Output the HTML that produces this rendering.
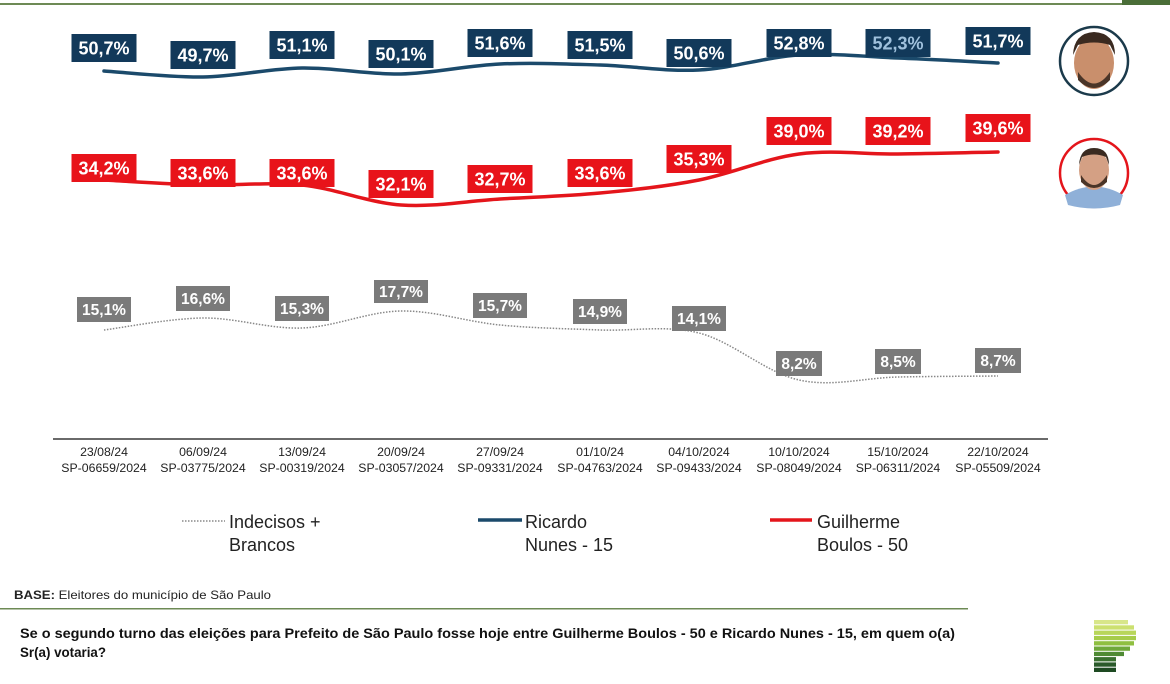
<!DOCTYPE html>
<html><head><meta charset="utf-8"><style>
html,body{margin:0;padding:0;background:#fff;}
body{width:1170px;height:684px;overflow:hidden;position:relative;font-family:"Liberation Sans",sans-serif;}
svg{position:absolute;left:0;top:0;}
</style></head><body>
<svg id="s" width="1170" height="684" viewBox="0 0 1170 684" font-family="Liberation Sans, sans-serif">
<rect x="0" y="3" width="1122" height="2" fill="#6d8a55"/>
<rect x="1122" y="0" width="48" height="5" fill="#4a6e38"/>
<path id="pb" fill="none" stroke="#1b4a6b" stroke-width="3.5" stroke-linecap="round"/>
<path id="pr" fill="none" stroke="#e4151b" stroke-width="3.5" stroke-linecap="round"/>
<path id="pg" fill="none" stroke="#888" stroke-width="1.5" stroke-dasharray="1.5 1.5"/>
<line x1="53" y1="439" x2="1048" y2="439" stroke="#111" stroke-width="1.2"/>
<g id="labels" font-weight="bold" text-anchor="middle"></g>
<g id="dates" font-size="12.3" fill="#222" text-anchor="middle"></g>
<line x1="182" y1="521" x2="225" y2="521" stroke="#888" stroke-width="1.5" stroke-dasharray="1.5 1.5"/>
<text x="229" y="528" font-size="18" fill="#222">Indecisos +</text>
<text x="229" y="551" font-size="18" fill="#222">Brancos</text>
<line x1="478" y1="520" x2="522" y2="520" stroke="#1b4a6b" stroke-width="3.5"/>
<text x="525" y="528" font-size="18" fill="#222">Ricardo</text>
<text x="525" y="551" font-size="18" fill="#222">Nunes - 15</text>
<line x1="770" y1="520" x2="812" y2="520" stroke="#e4151b" stroke-width="3.5"/>
<text x="817" y="528" font-size="18" fill="#222">Guilherme</text>
<text x="817" y="551" font-size="18" fill="#222">Boulos - 50</text>
<circle cx="1094" cy="61" r="34" fill="#fff" stroke="#1b3a4b" stroke-width="2.5"/>
<ellipse cx="1094" cy="63" rx="20" ry="26" fill="#c98f6c"/>
<path d="M1073 55 Q1074 33 1094 32 Q1115 33 1115 55 L1110 45 Q1094 40 1078 45 Z" fill="#3a2a20"/>
<path d="M1078 72 Q1094 95 1110 72 L1110 80 Q1094 96 1078 80 Z" fill="#4a3528"/>
<circle cx="1094" cy="173" r="34" fill="#fff" stroke="#e4151b" stroke-width="2.5"/>
<path d="M1065 195 Q1094 178 1123 195 L1120 205 Q1094 212 1068 205 Z" fill="#8fb0d8"/>
<ellipse cx="1094" cy="170" rx="15" ry="20" fill="#d4a084"/>
<path d="M1079 165 Q1080 148 1094 148 Q1109 148 1109 165 L1106 157 Q1094 152 1082 157 Z" fill="#3a2a20"/>
<path d="M1081 175 Q1094 195 1107 175 L1107 182 Q1094 194 1081 182 Z" fill="#4a3528"/>
<text x="14" y="599" font-size="12" fill="#222" textLength="257" lengthAdjust="spacingAndGlyphs"><tspan font-weight="bold">BASE:</tspan> Eleitores do município de São Paulo</text>
<rect x="0" y="608" width="968" height="1.5" fill="#6d8a55"/>
<text x="20" y="638" font-size="13.5" font-weight="bold" fill="#111" textLength="935" lengthAdjust="spacingAndGlyphs">Se o segundo turno das eleições para Prefeito de São Paulo fosse hoje entre Guilherme Boulos - 50 e Ricardo Nunes - 15, em quem o(a)</text>
<text x="20" y="657" font-size="13.5" font-weight="bold" fill="#111" textLength="86" lengthAdjust="spacingAndGlyphs">Sr(a) votaria?</text>
<g id="logo"></g>
</svg>
<script>
var X=[104,203,302,401,500,600,699,799,898,998];
function cr(Y){var d="M"+X[0]+" "+Y[0];for(var i=0;i<X.length-1;i++){var x0=X[i-1]||X[i],y0=i>0?Y[i-1]:Y[i],x3=X[i+2]||X[i+1],y3=i+2<Y.length?Y[i+2]:Y[i+1];
var c1x=X[i]+(X[i+1]-x0)/6,c1y=Y[i]+(Y[i+1]-y0)/6,c2x=X[i+1]-(x3-X[i])/6,c2y=Y[i+1]-(y3-Y[i])/6;
d+=" C"+c1x+" "+c1y+" "+c2x+" "+c2y+" "+X[i+1]+" "+Y[i+1];}return d;}
document.getElementById("pb").setAttribute("d",cr([71,77,68,74,64,65,70,55,58,63]));
document.getElementById("pr").setAttribute("d",cr([180,185,185,205,199,193,180,154,154,152]));
document.getElementById("pg").setAttribute("d",cr([330,318,328,311,325,330,333,380,377,376]));
var L=document.getElementById("labels"),ns="http://www.w3.org/2000/svg";
function box(cx,y,w,h,fill,txt,tc,fs){var r=document.createElementNS(ns,"rect");r.setAttribute("x",cx-w/2);r.setAttribute("y",y);r.setAttribute("width",w);r.setAttribute("height",h);r.setAttribute("fill",fill);L.appendChild(r);
var t=document.createElementNS(ns,"text");t.setAttribute("x",cx);t.setAttribute("y",y+h/2+fs*0.36);t.setAttribute("font-size",fs);t.setAttribute("fill",tc);t.textContent=txt;L.appendChild(t);}
var bc=[104,203,302,401,500,600,699,799,898,998];
var bl=["50,7%","49,7%","51,1%","50,1%","51,6%","51,5%","50,6%","52,8%","52,3%","51,7%"],by=[34,41,31,40,29,31,39,29,29,27];
var rl=["34,2%","33,6%","33,6%","32,1%","32,7%","33,6%","35,3%","39,0%","39,2%","39,6%"],ry=[154,159,159,170,165,159,145,117,117,114];
var gl=["15,1%","16,6%","15,3%","17,7%","15,7%","14,9%","14,1%","8,2%","8,5%","8,7%"],gy=[297,286,296,280,293,299,306,351,349,348];
for(var i=0;i<10;i++){box(bc[i],by[i],65,28,"#12395a",bl[i],i==8?"#9fc0dc":"#fff",18);
box(bc[i],ry[i],65,28,"#e8131a",rl[i],"#fff",18);
box(bc[i],gy[i],i>=7?46:54,i==3?23:25,"#7a7a7a",gl[i],"#fff",15.5);}
var D=document.getElementById("dates"),d1=["23/08/24","06/09/24","13/09/24","20/09/24","27/09/24","01/10/24","04/10/2024","10/10/2024","15/10/2024","22/10/2024"],
d2=["SP-06659/2024","SP-03775/2024","SP-00319/2024","SP-03057/2024","SP-09331/2024","SP-04763/2024","SP-09433/2024","SP-08049/2024","SP-06311/2024","SP-05509/2024"];
for(var i=0;i<10;i++){[d1[i],d2[i]].forEach(function(s,k){var t=document.createElementNS(ns,"text");t.setAttribute("x",X[i]);t.setAttribute("y",k?472:456);t.textContent=s;D.appendChild(t);});}
var G=document.getElementById("logo"),cols=["#d8e68a","#cce070","#b8d65a","#a6cc4a","#8fbf40","#6fa83a","#4f8a34","#3a7030","#2a5a2a","#1e4a22"],ws=[22,28,30,30,28,24,18,10,10,10];
for(var i=0;i<10;i++){var r=document.createElementNS(ns,"rect");r.setAttribute("x",1094);r.setAttribute("y",620+i*5.3);r.setAttribute("width",ws[i]+12);r.setAttribute("height",4.3);r.setAttribute("fill",cols[i]);G.appendChild(r);}
</script>
</body></html>
